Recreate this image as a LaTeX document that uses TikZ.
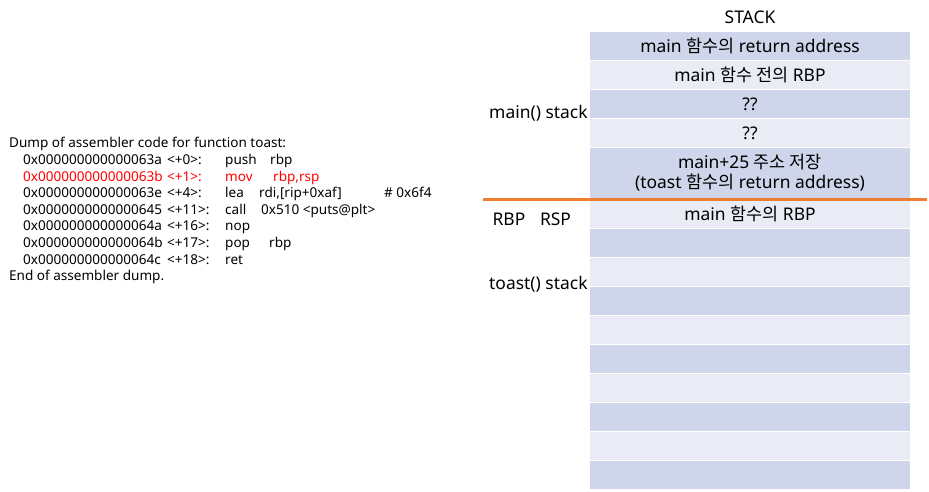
\documentclass[tikz,border=0pt]{standalone}
\usepackage{fontspec}
\setmainfont{Noto Sans}
\newfontfamily\kr{Noto Sans CJK KR}
\usetikzlibrary{positioning}
\definecolor{rowdark}{RGB}{207,213,234}
\definecolor{rowlight}{RGB}{233,235,245}
\definecolor{framesep}{RGB}{237,125,49}
\definecolor{asmred}{RGB}{255,0,0}
\tikzstyle{cell}=[minimum width=320bp, minimum height=28bp, inner sep=0pt,
    align=center, font=\fontsize{17.5}{20}\selectfont]
\tikzstyle{dark}=[cell, fill=rowdark]
\tikzstyle{light}=[cell, fill=rowlight]
\tikzstyle{asm}=[anchor=base west, inner sep=0pt, font=\fontsize{13.6}{15}\selectfont]
\tikzstyle{side}=[inner sep=0pt, font=\fontsize{17.5}{20}\selectfont]
% one line of the dump: address, offset, opcode (box width), operands
\newcommand{\insn}[5]{\makebox[144bp][l]{#1}\makebox[58bp][l]{#2}\makebox[#4][l]{#3}#5}
\def\stackx{750}
\def\rowpitch{29}

\begin{document}
\begin{tikzpicture}[x=1bp,y=-1bp]
	\useasboundingbox (0,0) rectangle (929,492);

	% disassembly of toast
	\node (d0) [asm] at (9,147.5) {Dump of assembler code for function toast:};
	\node (d1) [asm] at (23,164.5) {\insn{0x000000000000063a}{<+0>:}{push}{45bp}{rbp}};
	\node (d2) [asm, text=asmred] at (23,181.5) {\insn{0x000000000000063b}{<+1>:}{mov}{48bp}{rbp,rsp}};
	\node (d3) [asm] at (23,197.5) {\insn{0x000000000000063e}{<+4>:}{lea}{34bp}{\makebox[125bp][l]{rdi,[rip+0xaf]}\# 0x6f4}};
	\node (d4) [asm] at (23,214.5) {\insn{0x0000000000000645}{<+11>:}{call}{36bp}{0x510 <puts@plt>}};
	\node (d5) [asm] at (23,231) {\insn{0x000000000000064a}{<+16>:}{nop}{0bp}{}};
	\node (d6) [asm] at (23,248) {\insn{0x000000000000064b}{<+17>:}{pop}{44bp}{rbp}};
	\node (d7) [asm] at (23,264.5) {\insn{0x000000000000064c}{<+18>:}{ret}{0bp}{}};
	\node (d8) [asm] at (9,281) {End of assembler dump.};

	% the stack
	\node (title) [side] at (\stackx,17) {STACK};
	\node (r1) [dark]  at (\stackx,46)  {main {\kr 함수의} return address};
	\node (r2) [light] at (\stackx,75)  {main {\kr 함수 전의} RBP};
	\node (r3) [dark]  at (\stackx,104) {??};
	\node (r4) [light] at (\stackx,133) {??};
	\node (r5) [dark, minimum height=50bp] at (\stackx,173)
	    {main+25 {\kr 주소 저장}\\(toast {\kr 함수의} return address)};
	\node (r6) [light] at (\stackx,214) {main {\kr 함수의} RBP};
	\foreach \i in {7,...,15} {
	    \pgfmathsetmacro{\yc}{214+(\i-6)*\rowpitch}
	    \ifodd\i
	        \node (r\i) [dark] at (\stackx,\yc) {};
	    \else
	        \node (r\i) [light] at (\stackx,\yc) {};
	    \fi
	}

	% frame boundary between main() and toast()
	\coordinate (sepl) at (483,199.5);
	\coordinate (sepr) at (927,199.5);
	\draw [framesep, line width=2.5bp] (sepl) -- (sepr);

	\node (mainlab) [side, anchor=west] at (489,113) {main() stack};
	\node (rbp) [side] at (509,219) {RBP};
	\node (rsp) [side] at (555.5,219) {RSP};
	\node (toastlab) [side, anchor=west] at (489,284) {toast() stack};
\end{tikzpicture}
\end{document}
